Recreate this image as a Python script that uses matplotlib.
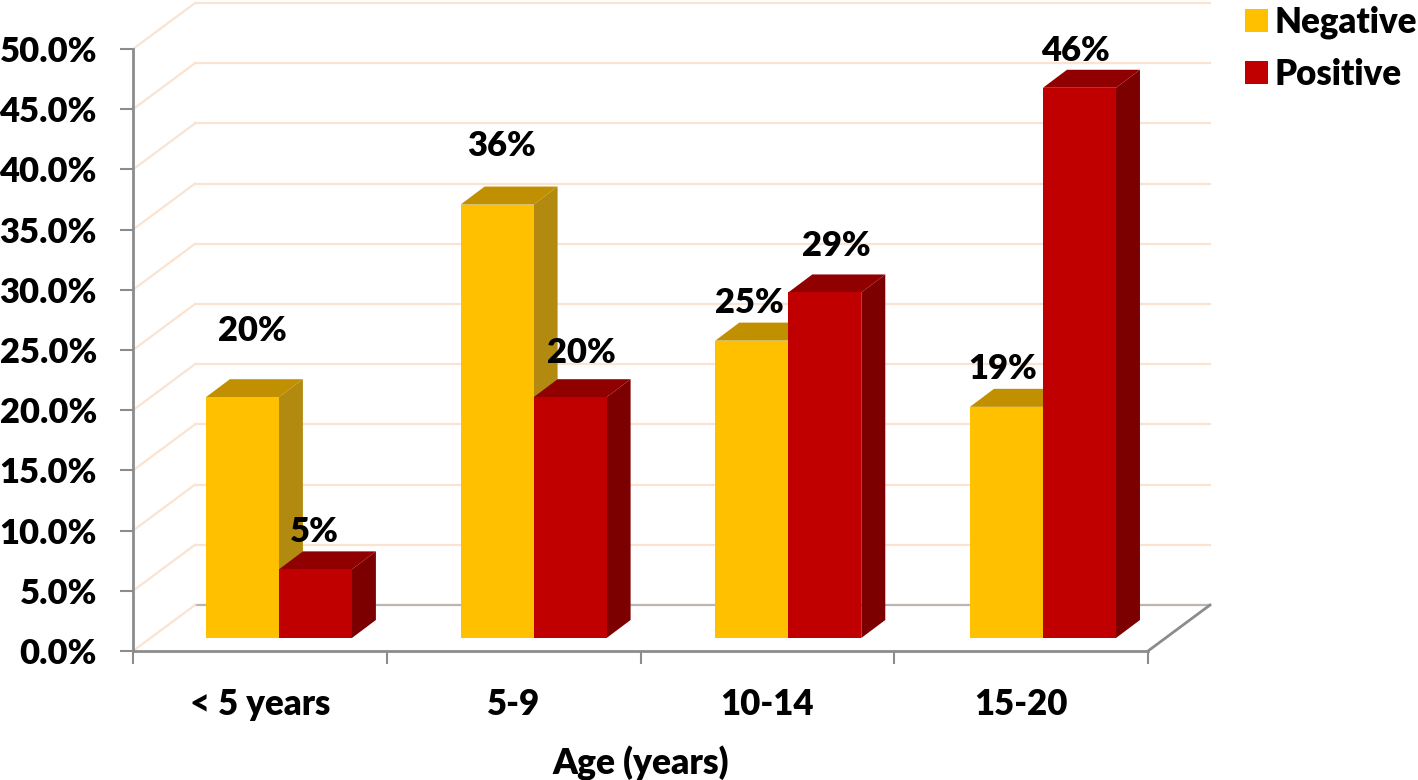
import matplotlib
matplotlib.use("Agg")
import matplotlib.pyplot as plt
from matplotlib.patches import Polygon
from matplotlib.ticker import FixedLocator, FixedFormatter, PercentFormatter

WEIGHT = 'heavy'
plt.rcParams['font.family'] = ['Lato', 'DejaVu Sans']
plt.rcParams['font.weight'] = WEIGHT

categories = ['< 5 years', '5-9', '10-14', '15-20']
negative = [20.0, 36.0, 24.7, 19.2]
positive = [5.7, 20.0, 28.7, 45.7]
negative_labels = ['20%', '36%', '25%', '19%']
positive_labels = ['5%', '20%', '29%', '46%']
y_ticks = [0, 5, 10, 15, 20, 25, 30, 35, 40, 45, 50]

W, H = 1418, 780
L, R, T, B = 133, 1148, 49, 651
fig = plt.figure(figsize=(W / 100, H / 100), dpi=100, facecolor='white')
ax = fig.add_axes([L / W, 1 - B / H, (R - L) / W, (B - T) / H])
ax.set_xlim(-0.5, 3.5)
ax.set_ylim(0, 50)
ux = (R - L) / 4          # px per category
uy = (B - T) / 50         # px per percent

# 3-D wall depth
dx, dy = 62 / ux, 46 / uy
GRID = '#FBE3D2'
for v in y_ticks:
    col = '#BDB5AE' if v == 0 else GRID
    ax.plot([-0.5 + dx, 3.5 + dx], [v + dy, v + dy], color=col, lw=1.6, clip_on=False, zorder=1)
    ax.plot([-0.5, -0.5 + dx], [v, v + dy], color=GRID, lw=1.6, clip_on=False, zorder=1)
ax.plot([3.5, 3.5 + dx], [0, dy], color='#8C8C8C', lw=2, clip_on=False, zorder=1)

# Bars
bw = 73 / ux
base = 13 / uy
bdx, bdy = 24 / ux, 18 / uy
spacing = 1.0037
shift = 0.075
NEG = ('#FFC000', '#C09000', '#B28A10')
POS = ('#C00000', '#900000', '#7C0000')
neg_x = [i * spacing + shift - bw / 2 for i in range(4)]
pos_x = [i * spacing + shift + bw / 2 for i in range(4)]


def draw(xs, vals, cols, label, z):
    bars = ax.bar(xs, vals, width=bw, bottom=base, color=cols[0], label=label,
                  zorder=z + 0.1, clip_on=False, linewidth=0)
    for x, v in zip(xs, vals):
        x0, x1, y0, y1 = x - bw / 2, x + bw / 2, base, base + v
        ax.add_patch(Polygon([(x1, y0), (x1 + bdx, y0 + bdy), (x1 + bdx, y1 + bdy), (x1, y1)],
                             facecolor=cols[2], lw=0, zorder=z, clip_on=False))
        ax.add_patch(Polygon([(x0, y1), (x0 + bdx, y1 + bdy), (x1 + bdx, y1 + bdy), (x1, y1)],
                             facecolor=cols[1], lw=0, zorder=z, clip_on=False))
    return bars


h1 = draw(neg_x, negative, NEG, 'Negative', 2)
h2 = draw(pos_x, positive, POS, 'Positive', 3)

# Value labels
neg_off = [(10, 66), (4, 59), (-2, 38), (-4, 38)]
pos_off = [(-1, 37), (11, 44), (12, 46), (-4, 37)]
FS = 24.8
for xs, vals, labs, offs in [(neg_x, negative, negative_labels, neg_off),
                             (pos_x, positive, positive_labels, pos_off)]:
    for x, v, s, (ox, oy) in zip(xs, vals, labs, offs):
        ax.annotate(s, (x, base + v), xytext=(ox * 0.72, oy * 0.72), textcoords='offset points',
                    ha='center', va='center', fontsize=FS, fontweight=WEIGHT,
                    color='black', zorder=5, annotation_clip=False)

# Axes
for s in ('top', 'right'):
    ax.spines[s].set_visible(False)
for s in ('left', 'bottom'):
    ax.spines[s].set_color('#8C8C8C')
    ax.spines[s].set_linewidth(2)
ax.patch.set_alpha(0)
ax.set_yticks(y_ticks)
ax.yaxis.set_major_formatter(PercentFormatter(100, decimals=1))
ax.tick_params(axis='y', length=9.4, width=1.5, color='#8C8C8C', pad=16.6, labelsize=FS)
for t in ax.get_yticklabels():
    t.set_verticalalignment('center_baseline')
ax.set_xticks([-0.5, 0.5, 1.5, 2.5, 3.5])
ax.set_xticklabels([])
ax.xaxis.set_minor_locator(FixedLocator([0, 1, 2, 3]))
ax.xaxis.set_minor_formatter(FixedFormatter(categories))
ax.tick_params(axis='x', which='major', length=9, width=1.5, color='#8C8C8C')
ax.tick_params(axis='x', which='minor', length=0, pad=26.5, labelsize=25)
ax.set_xlabel('Age (years)', fontsize=25.5, fontweight=WEIGHT, labelpad=18)

leg = ax.legend(handles=[h1, h2], loc='upper left', bbox_to_anchor=(1238 / W, 1 + 1 / H),
                bbox_transform=fig.transFigure, frameon=False, fontsize=25,
                handlelength=0.66, handleheight=0.66, handletextpad=0.2,
                labelspacing=0.53, borderpad=0.2, borderaxespad=0)

fig.savefig('out.png', dpi=100, facecolor='white')
